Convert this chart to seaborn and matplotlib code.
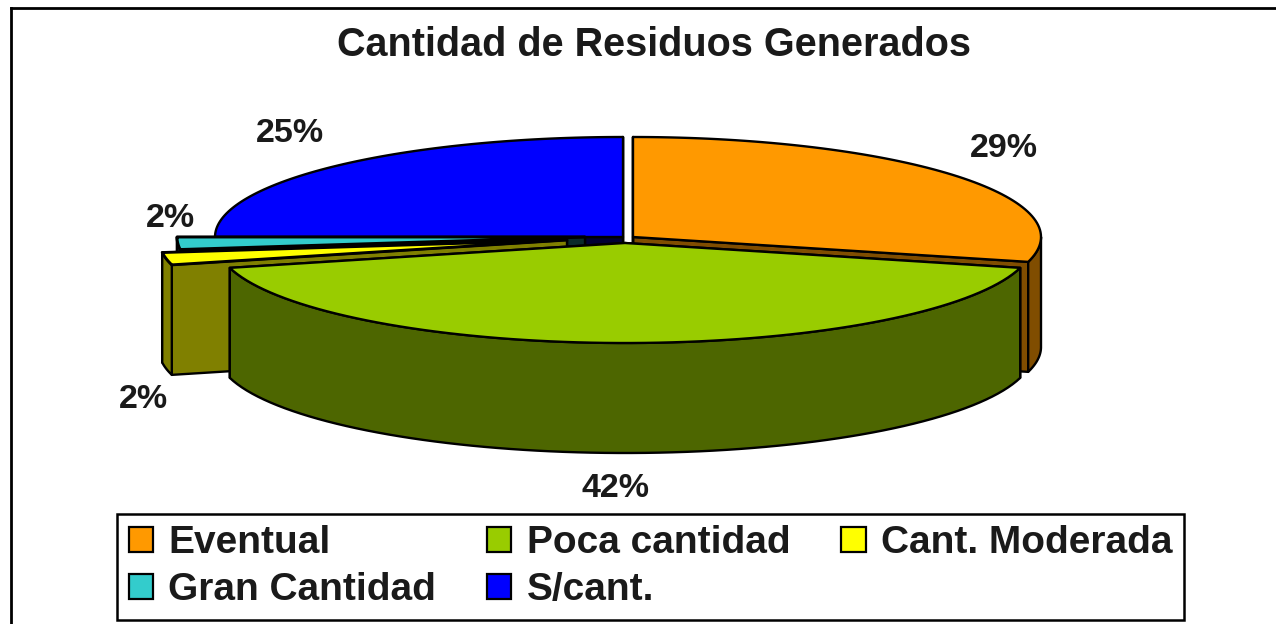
import matplotlib
matplotlib.use("Agg")

import matplotlib.pyplot as plt
from matplotlib.patches import Patch, Polygon
import numpy as np
import seaborn as sns

categories = ["Eventual", "Poca cantidad", "Cant. Moderada", "Gran Cantidad", "S/cant."]
shares = [29, 42, 2, 2, 25]
top_colors = ["#FF9900", "#99CC00", "#FFFF00", "#33CCCC", "#0000FF"]
side_colors = ["#804D00", "#4D6600", "#808000", "#0A2A2A", "#000033"]

# where each exploded slice has its tip, in picture pixels
centers = [(633, 237), (625, 243), (567, 240), (585, 237), (623, 237)]
label_spots = [(1004, 149), (615, 489), (143, 400), (170, 219), (290, 134)]
line_widths = [1.7, 1.7, 2.1, 2.1, 1.7]
RX, RY, DEPTH = 408, 100, 110

sns.set_theme(style="white")
plt.rcParams["font.family"] = ["Liberation Sans", "DejaVu Sans"]


def rim(cx, cy, a, b):
    t = np.radians(np.linspace(a, b, 80))
    return np.column_stack([cx + RX * np.sin(t), cy - RY * np.cos(t)])


def add_poly(ax, pts, color, z, lw):
    ax.add_patch(Polygon(pts, closed=True, facecolor=color, edgecolor="black",
                         linewidth=lw, joinstyle="round", zorder=z))


def draw_slice(ax, center, a, b, top, side, z, lw):
    cx, cy = center
    tip = np.array([[cx, cy]])
    drop = np.array([0, DEPTH])
    # the two cut faces, far one first
    for ang in (b, a):
        edge = np.vstack([tip, rim(cx, cy, ang, ang)[:1]])
        add_poly(ax, np.vstack([edge, edge[::-1] + drop]), side, z, 1.7)
    # outer wall, only the part that faces the viewer
    lo, hi = max(a, 90), min(b, 270)
    if lo < hi:
        arc = rim(cx, cy, lo, hi)
        add_poly(ax, np.vstack([arc, arc[::-1] + drop]), side, z, 1.7)
    add_poly(ax, np.vstack([tip, rim(cx, cy, a, b)]), top, z + 0.5, lw)


fig = plt.figure(figsize=(12.76, 6.24), dpi=100)
ax = fig.add_axes([11 / 1276, 0, 1 - 11 / 1276, 1 - 8 / 624])
ax.set_xlim(11, 1276)
ax.set_ylim(624, 8)
ax.set_xticks([])
ax.set_yticks([])
for s in ax.spines.values():
    s.set_linewidth(2.0)
    s.set_color("black")
sns.despine(ax=ax, top=False, right=True, bottom=True)

palette = sns.color_palette(top_colors)
edges = np.cumsum([0] + shares) / sum(shares) * 360

# back slices first, the green one sits in front of everything
draw_order = [4, 3, 2, 0, 1]
for z, i in enumerate(draw_order):
    draw_slice(ax, centers[i], edges[i], edges[i + 1], palette[i], side_colors[i], z + 2, line_widths[i])

for share, (x, y) in zip(shares, label_spots):
    ax.text(x, y, f"{share}%", ha="center", va="center", fontsize=24.5, fontweight="bold", color="#1a1a1a", zorder=10)

ax.text(654, 45, "Cantidad de Residuos Generados", ha="center", va="center",
        fontsize=28.5, fontweight="bold", color="#1a1a1a")

# legend fills by column, so the order here gives the original rows
legend_order = [0, 3, 1, 4, 2]
handles = [Patch(facecolor=palette[i], edgecolor="black", linewidth=1.6, label=categories[i]) for i in legend_order]
leg = fig.legend(handles=handles, ncols=3, loc="lower left", bbox_to_anchor=(117 / 1276, 4 / 624),
                 borderaxespad=0, fontsize=28, frameon=True, fancybox=False, edgecolor="black",
                 framealpha=1, handlelength=0.62, handleheight=0.62, handletextpad=0.4,
                 columnspacing=1.31, labelspacing=0.28, borderpad=0.3)
leg.get_frame().set_linewidth(1.8)
for t in leg.get_texts():
    t.set_fontweight("bold")
    t.set_color("#1a1a1a")

fig.savefig("out.png", dpi=100)
